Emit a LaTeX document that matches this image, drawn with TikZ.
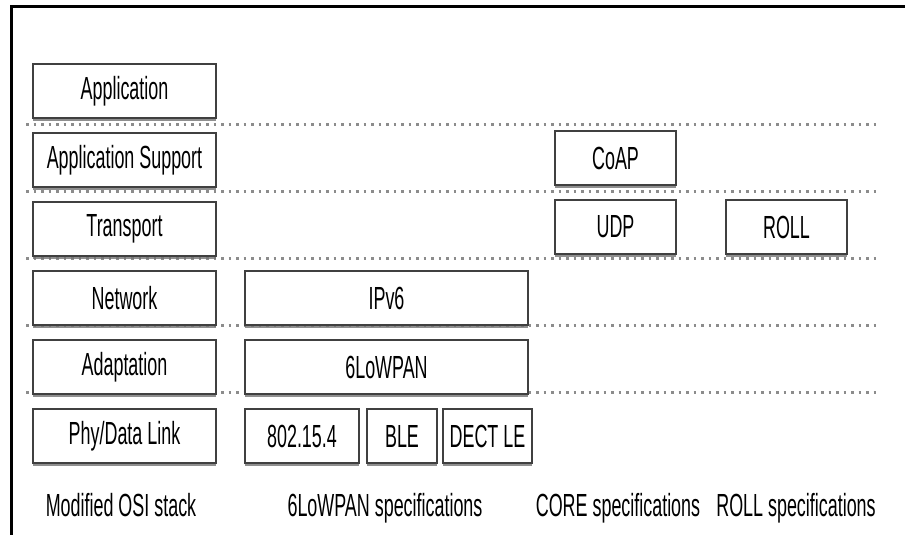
\documentclass[tikz,border=0pt]{standalone}
\usepackage{fontspec}
\setmainfont[FakeStretch=0.56]{Liberation Sans}
\usetikzlibrary{positioning,shadows}

\begin{document}
\begin{tikzpicture}[x=1pt, y=1pt, node distance=13pt,
    layer/.style={rectangle, draw=black!75, line width=2pt, fill=white, minimum height=54pt, inner sep=0pt, font=\fontsize{32}{34}\selectfont, drop shadow={shadow xshift=0pt, shadow yshift=-3pt, opacity=0.8, fill=black!55}},
    caption/.style={font=\fontsize{32}{34}\selectfont, inner sep=0pt, anchor=base},
    sepline/.style={draw=black!45, line width=2.5pt, dash pattern=on 2.5pt off 5pt}]
    \useasboundingbox (0,0) rectangle (905,535);

    % Frame
    \draw[line width=3.5pt] (11.5,0) -- (11.5,528.5) -- (905,528.5);

    % Separators
    \foreach \y in {410.5, 343.5, 276.5, 209.5, 142.5}
        \draw[sepline] (26,\y) -- (880,\y);

    % Modified OSI stack
    \node (app) [layer, minimum width=183pt] at (124.5,444) {Application};
    \node (appsup) [layer, minimum width=183pt, below=of app] {Application Support};
    \node (trans) [layer, minimum width=183pt, below=of appsup] {Transport};
    \node (net) [layer, minimum width=183pt, below=of trans] {Network};
    \node (adapt) [layer, minimum width=183pt, below=of net] {Adaptation};
    \node (phy) [layer, minimum width=183pt, below=of adapt] {Phy/Data Link};

    % 6LoWPAN specifications
    \node (ipv6) [layer, minimum width=283pt, right=27pt of net] {IPv6};
    \node (lowpan) [layer, minimum width=283pt, below=of ipv6] {6LoWPAN};
    \node (ieee) [layer, minimum width=114pt, right=27pt of phy] {802.15.4};
    \node (ble) [layer, minimum width=70pt, right=6pt of ieee] {BLE};
    \node (dect) [layer, minimum width=89pt, right=4pt of ble] {DECT LE};

    % CORE and ROLL specifications
    \node (coap) [layer, minimum width=121pt] at (615.5,377) {CoAP};
    \node (udp) [layer, minimum width=121pt, below=of coap] {UDP};
    \node (roll) [layer, minimum width=121pt, right=48pt of udp] {ROLL};

    % Captions
    \node (osicap) [caption] at (121,18) {Modified OSI stack};
    \node (lowpancap) [caption] at (385,18) {6LoWPAN specifications};
    \node (corecap) [caption] at (618,18) {CORE specifications};
    \node (rollcap) [caption] at (796,18) {ROLL specifications};
\end{tikzpicture}
\end{document}
